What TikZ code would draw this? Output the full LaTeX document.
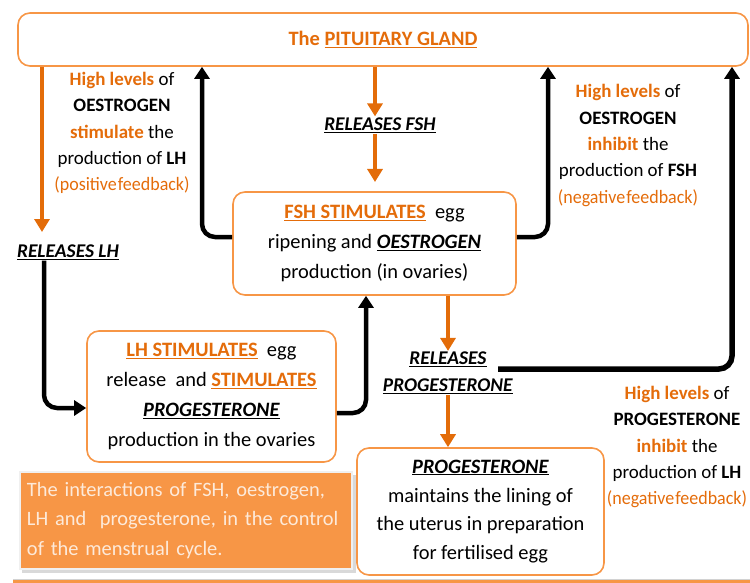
\documentclass[tikz,border=0pt]{standalone}
\usepackage{fontspec}
\setmainfont{Carlito}
\usetikzlibrary{arrows.meta}
\definecolor{ortxt}{HTML}{E46C0A}
\definecolor{obord}{HTML}{F79646}
\definecolor{oarr}{HTML}{E36C09}
\definecolor{capfill}{HTML}{F79646}
\definecolor{captxt}{HTML}{FDEADA}
\newcommand{\ot}[1]{\textcolor{ortxt}{\textbf{#1}}}
\newcommand{\ou}[1]{\textcolor{ortxt}{\textbf{\underline{#1}}}}
\newcommand{\bi}[1]{\underline{\textbf{\textit{#1}}}}
\newcommand{\fb}[2]{\textcolor{ortxt}{\scalebox{0.95}[1]{(#1\hspace{0.06em}#2)}}}
\newcommand{\boxfont}{\fontsize{20.5}{30}\selectfont}
\newcommand{\boxfontb}{\fontsize{20.5}{29}\selectfont}
\newcommand{\annfont}{\fontsize{19}{26.5}\selectfont}
\newcommand{\lblfont}{\fontsize{19.5}{27}\selectfont}
\begin{document}
\begin{tikzpicture}[x=1bp,y=-1bp,
  box/.style={draw=obord, line width=1.6bp, rounded corners=12bp, fill=white,
    align=center, font=\boxfont, inner sep=0pt},
  ann/.style={align=center, font=\annfont, inner sep=1bp},
  lbl/.style={align=center, font=\lblfont, inner sep=1bp},
  oarrow/.style={draw=oarr, line width=3.5bp, -{Triangle[width=15bp,length=13bp]}},
  barrow/.style={draw=black, line width=4.5bp, rounded corners=13bp, -{Triangle[width=15bp,length=12bp]}}]
\useasboundingbox (0,0) rectangle (750,583);

% bottom rule
\draw[gray!35, line width=1bp] (13,579) -- (750,579);
\draw[obord, line width=3bp] (13,581.5) -- (750,581.5);

% boxes
\node[box, minimum width=730bp, minimum height=53bp] (pit) at (383,39.5)
  {\textcolor{ortxt}{\textbf{The \underline{PITUITARY GLAND}}}};
\node[box, minimum width=283bp, minimum height=103bp] (fsh) at (374.5,243.5)
  {\ou{FSH STIMULATES}\ \ egg\\ ripening and \bi{OESTROGEN}\\ production (in ovaries)};
\node[box, minimum width=249bp, minimum height=131bp] (lh) at (211.5,396.5)
  {\ou{LH STIMULATES}\ \ egg\\ release\ \ and \ou{STIMULATES}\\ \bi{PROGESTERONE}\\ production in the ovaries};
\node[box, font=\boxfontb, minimum width=247bp, minimum height=127bp] (prog) at (480.5,511.5)
  {\bi{PROGESTERONE}\\ maintains the lining of\\ the uterus in preparation\\ for fertilised egg};

% caption
\fill[gray!30] (22,475) rectangle (356,573);
\node[draw=gray!12, line width=2.5bp, fill=capfill, text=captxt, font=\boxfont,
  align=left, text width=318bp, inner xsep=7bp, inner ysep=0pt,
  minimum height=97bp] (cap) at (186,520.5)
  {The interactions of FSH, oestrogen,\\ LH and\ \ progesterone, in the control\\ of the menstrual cycle.};

% labels
\node[lbl] (rlh) at (68,252) {\bi{RELEASES LH}};
\node[lbl] (rfsh) at (380,125) {\bi{RELEASES FSH}};
\node[lbl] (rprog) at (448,373) {\bi{RELEASES}\\ \bi{PROGESTERONE}};

% annotations
\node[ann] (a1) at (122,133) {\ot{High levels} of\\ \textbf{OESTROGEN}\\ \ot{stimulate} the\\ production of \textbf{LH}\\ \fb{positive}{feedback}};
\node[ann] (a2) at (628,145.5) {\ot{High levels} of\\ \textbf{OESTROGEN}\\ \ot{inhibit} the\\ production of \textbf{FSH}\\ \fb{negative}{feedback}};
\node[ann] (a3) at (677,447) {\ot{High levels} of\\ \textbf{PROGESTERONE}\\ \ot{inhibit} the\\ production of \textbf{LH}\\ \fb{negative}{feedback}};

% helper coordinates
\coordinate (xL) at (42,0);
\coordinate (xLb) at (44,0);
\coordinate (xC) at (375,0);
\coordinate (xFl) at (202,0);
\coordinate (xFr) at (548,0);
\coordinate (xFb) at (366,0);
\coordinate (xP) at (448,0);
\coordinate (xR) at (732,0);
\coordinate (ps) at (498,369);
\coordinate (tipL) at (42,232);
\coordinate (tipC) at (375,182);

% orange arrows
\draw[oarrow] (pit.south -| xL) -- (tipL);
\draw[oarrow] (pit.south -| xC) -- (rfsh.north -| xC);
\draw[oarrow] (rfsh.south -| xC) -- (tipC);
\draw[oarrow] (fsh.south -| xP) -- (rprog.north -| xP);
\draw[oarrow] (rprog.south -| xP) -- (prog.north -| xP);

% black arrows
\draw[barrow] ([yshift=6.5bp]fsh.west) -| (pit.south -| xFl);
\draw[barrow] ([yshift=6.5bp]fsh.east) -| (pit.south -| xFr);
\draw[barrow] (rlh.south -| xLb) |- ([yshift=-11.5bp]lh.west);
\draw[barrow] ([yshift=-16.5bp]lh.east) -| (fsh.south -| xFb);
\draw[barrow, line width=5.5bp] (ps) -| (pit.south -| xR);
\end{tikzpicture}
\end{document}
